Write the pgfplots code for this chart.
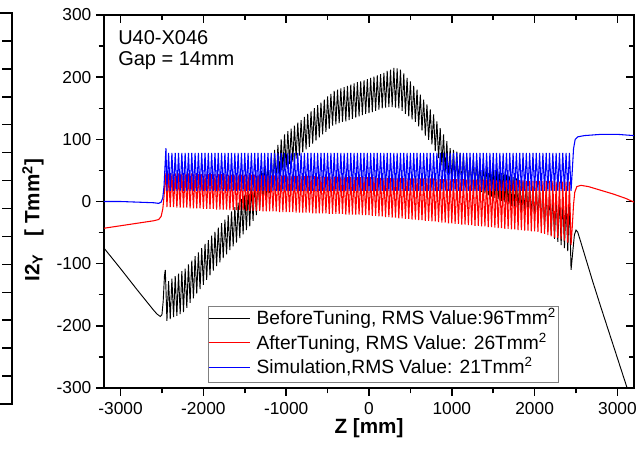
\documentclass[border=0pt]{standalone}
\usepackage{fontspec}
\setmainfont{Liberation Sans}
\usepackage{pgfplots}
\pgfplotsset{compat=1.18}
\definecolor{simblue}{RGB}{0,0,255}
\definecolor{tunered}{RGB}{255,0,0}

\begin{document}
\begin{tikzpicture}
\useasboundingbox (-78pt,-49.5pt) rectangle (399.75pt,291pt);

% edge of the neighbouring panel, cut by the picture border
\begin{scope}
\clip (-78pt,-49.5pt) rectangle (-68pt,291pt);
\begin{axis}[at={(-69pt,-12pt)}, anchor=south east, scale only axis,
  width=40pt, height=293.25pt, xmin=0, xmax=1, ymin=0, ymax=14,
  xtick=\empty, ytick={1,...,13}, yticklabels={}, ytick pos=right,
  tick align=inside, major tick length=7.5pt,
  axis line style={line width=1.1pt}, every tick/.append style={line width=1.1pt, black}]
\end{axis}
\end{scope}

% inward ticks on the top and right edges
\begin{axis}[
  at={(0,0)}, anchor=south west, scale only axis,
  width=397.5pt, height=279.75pt,
  xmin=-3200, xmax=3200, ymin=-300, ymax=300,
  xtick={-3000,-2000,...,3000}, ytick={-300,-200,...,300},
  minor x tick num=1, minor y tick num=1,
  xtick pos=right, ytick pos=right, tick align=inside,
  xticklabels={}, yticklabels={},
  major tick length=6pt, minor tick length=4pt,
  axis line style={draw=none},
  every tick/.append style={line width=1.1pt, black},
]
\end{axis}

\begin{axis}[
  at={(0,0)}, anchor=south west, scale only axis,
  width=397.5pt, height=279.75pt,
  xmin=-3200, xmax=3200, ymin=-300, ymax=300,
  xtick={-3000,-2000,...,3000}, ytick={-300,-200,...,300},
  minor x tick num=1, minor y tick num=1,
  xtick pos=left, ytick pos=left, tick align=outside,
  major tick length=6pt, minor tick length=4pt,
  axis line style={line width=1.1pt},
  every tick/.append style={line width=1.1pt, black},
  tick label style={font=\fontsize{13}{15}\selectfont},
  xticklabel style={yshift=-1.5pt},
  /pgf/number format/assume math mode=true,
  /pgf/number format/1000 sep={},
  scaled ticks=false,
  xlabel={Z [mm]},
  ylabel={I2\textsubscript{Y}\ \ \ [ Tmm\textsuperscript{2}]},
  label style={font=\fontsize{15.5}{18}\selectfont\bfseries},
  xlabel style={at={(axis description cs:0.5,-0.107)}, anchor=center},
  ylabel style={at={(axis description cs:-0.134,0.45)}, anchor=center},
]
\addplot[black, line width=0.7pt] coordinates {
(-3200,-75) (-3000,-108) (-2800,-142) (-2600,-175) (-2560,-181) (-2520,-185) (-2500,-182) (-2485,-160) (-2470,-120) (-2460,-110) (-2452,-140)
(-2440,-192) (-2420,-128) (-2400,-189) (-2380,-124) (-2360,-186) (-2340,-120) (-2320,-184) (-2300,-116) (-2280,-181) (-2260,-112)
(-2240,-178) (-2220,-108) (-2200,-171) (-2180,-101) (-2160,-163) (-2140,-95) (-2120,-156) (-2100,-88) (-2080,-148) (-2060,-82)
(-2040,-141) (-2020,-75) (-2000,-134) (-1980,-68) (-1960,-126) (-1940,-62) (-1920,-119) (-1900,-55) (-1880,-111) (-1860,-49)
(-1840,-104) (-1820,-42) (-1800,-98) (-1780,-35) (-1760,-91) (-1740,-29) (-1720,-85) (-1700,-22) (-1680,-78) (-1660,-16)
(-1640,-72) (-1620,-9) (-1600,-66) (-1580,-2) (-1560,-59) (-1540,4) (-1520,-53) (-1500,11) (-1480,-46) (-1460,17)
(-1440,-40) (-1420,24) (-1400,-31) (-1380,32) (-1360,-22) (-1340,41) (-1320,-13) (-1300,49) (-1280,-4) (-1260,58)
(-1240,5) (-1220,66) (-1200,14) (-1180,74) (-1160,23) (-1140,83) (-1120,32) (-1100,91) (-1080,41) (-1060,100)
(-1040,50) (-1020,108) (-1000,55) (-980,113) (-960,60) (-940,117) (-920,64) (-900,122) (-880,69) (-860,127)
(-840,74) (-820,131) (-800,79) (-780,136) (-760,84) (-740,141) (-720,88) (-700,145) (-680,93) (-660,150)
(-640,98) (-620,155) (-600,103) (-580,159) (-560,108) (-540,164) (-520,112) (-500,169) (-480,117) (-460,173)
(-440,122) (-420,178) (-400,124) (-380,180) (-360,126) (-340,182) (-320,128) (-300,184) (-280,129) (-260,186)
(-240,131) (-220,188) (-200,133) (-180,190) (-160,135) (-140,192) (-120,137) (-100,193) (-80,139) (-60,195)
(-40,141) (-20,197) (0,142) (20,199) (40,144) (60,201) (80,146) (100,203) (120,148) (140,205)
(160,150) (180,207) (200,151) (220,210) (240,152) (260,212) (280,152) (300,215) (320,151) (340,214)
(360,150) (380,212) (400,146) (420,206) (440,141) (460,199) (480,137) (500,193) (520,132) (540,186)
(560,128) (580,180) (600,121) (620,172) (640,114) (660,164) (680,106) (700,156) (720,99) (740,148)
(760,92) (780,140) (800,81) (820,129) (840,70) (860,118) (880,58) (900,108) (920,47) (940,97)
(960,36) (980,86) (1000,34) (1020,83) (1040,32) (1060,80) (1080,30) (1100,78) (1120,27) (1140,76)
(1160,25) (1180,73) (1200,23) (1220,71) (1240,21) (1260,68) (1280,19) (1300,66) (1320,17) (1340,63)
(1360,15) (1380,61) (1400,13) (1420,58) (1440,10) (1460,56) (1480,8) (1500,53) (1520,6) (1540,51)
(1560,4) (1580,48) (1600,1) (1620,46) (1640,-1) (1660,43) (1680,-4) (1700,41) (1720,-7) (1740,39)
(1760,-9) (1780,37) (1800,-12) (1820,34) (1840,-15) (1860,32) (1880,-17) (1900,30) (1920,-20) (1940,27)
(1960,-23) (1980,25) (2000,-25) (2020,23) (2040,-28) (2060,21) (2080,-34) (2100,18) (2120,-41) (2140,16)
(2160,-47) (2180,14) (2200,-54) (2220,12) (2240,-60) (2260,9) (2280,-65) (2300,7) (2320,-70) (2340,5)
(2360,-75) (2380,2) (2400,-80) (2420,0) (2440,-110)
(2460,-82) (2480,-54) (2500,-46) (2520,-49) (2550,-62) (2600,-84) (2700,-128) (2800,-170) (2900,-211) (3000,-252) (3100,-293) (3200,-335)
};
\addplot[tunered, line width=0.8pt] coordinates {
(-3200,-43) (-3000,-39) (-2800,-35) (-2600,-31) (-2540,-29) (-2510,-24) (-2490,-12) (-2475,8) (-2462,32) (-2452,46)
(-2440,-9) (-2420,45) (-2400,-9) (-2380,45) (-2360,-9) (-2340,45) (-2320,-10) (-2300,45) (-2280,-10) (-2260,45)
(-2240,-10) (-2220,45) (-2200,-10) (-2180,45) (-2160,-11) (-2140,45) (-2120,-11) (-2100,45) (-2080,-11) (-2060,44)
(-2040,-11) (-2020,44) (-2000,-12) (-1980,44) (-1960,-12) (-1940,44) (-1920,-12) (-1900,44) (-1880,-12) (-1860,44)
(-1840,-13) (-1820,44) (-1800,-13) (-1780,44) (-1760,-13) (-1740,44) (-1720,-13) (-1700,43) (-1680,-14) (-1660,43)
(-1640,-14) (-1620,43) (-1600,-14) (-1580,43) (-1560,-14) (-1540,43) (-1520,-14) (-1500,43) (-1480,-15) (-1460,43)
(-1440,-15) (-1420,43) (-1400,-15) (-1380,43) (-1360,-15) (-1340,42) (-1320,-15) (-1300,42) (-1280,-16) (-1260,42)
(-1240,-16) (-1220,42) (-1200,-16) (-1180,42) (-1160,-16) (-1140,42) (-1120,-16) (-1100,42) (-1080,-17) (-1060,42)
(-1040,-17) (-1020,42) (-1000,-17) (-980,41) (-960,-17) (-940,41) (-920,-17) (-900,41) (-880,-18) (-860,41)
(-840,-18) (-820,41) (-800,-18) (-780,41) (-760,-18) (-740,41) (-720,-18) (-700,41) (-680,-19) (-660,41)
(-640,-19) (-620,40) (-600,-19) (-580,40) (-560,-19) (-540,40) (-520,-19) (-500,40) (-480,-20) (-460,40)
(-440,-20) (-420,40) (-400,-20) (-380,40) (-360,-20) (-340,40) (-320,-20) (-300,40) (-280,-21) (-260,39)
(-240,-21) (-220,39) (-200,-21) (-180,39) (-160,-21) (-140,39) (-120,-21) (-100,39) (-80,-22) (-60,39)
(-40,-22) (-20,39) (0,-22) (20,39) (40,-23) (60,39) (80,-23) (100,38) (120,-24) (140,38)
(160,-24) (180,38) (200,-25) (220,38) (240,-25) (260,38) (280,-26) (300,38) (320,-26) (340,38)
(360,-27) (380,38) (400,-27) (420,38) (440,-28) (460,37) (480,-28) (500,37) (520,-29) (540,37)
(560,-29) (580,37) (600,-30) (620,37) (640,-30) (660,37) (680,-31) (700,37) (720,-31) (740,37)
(760,-32) (780,37) (800,-32) (820,36) (840,-33) (860,36) (880,-34) (900,36) (920,-34) (940,36)
(960,-35) (980,36) (1000,-35) (1020,36) (1040,-36) (1060,36) (1080,-36) (1100,36) (1120,-37) (1140,36)
(1160,-37) (1180,35) (1200,-38) (1220,35) (1240,-38) (1260,35) (1280,-39) (1300,35) (1320,-39) (1340,35)
(1360,-40) (1380,35) (1400,-40) (1420,35) (1440,-41) (1460,35) (1480,-41) (1500,35) (1520,-42) (1540,34)
(1560,-43) (1580,34) (1600,-43) (1620,34) (1640,-44) (1660,34) (1680,-44) (1700,34) (1720,-45) (1740,34)
(1760,-45) (1780,34) (1800,-46) (1820,34) (1840,-46) (1860,34) (1880,-47) (1900,33) (1920,-47) (1940,33)
(1960,-48) (1980,33) (2000,-48) (2020,33) (2040,-49) (2060,33) (2080,-51) (2100,33) (2120,-52) (2140,33)
(2160,-54) (2180,33) (2200,-56) (2220,33) (2240,-58) (2260,32) (2280,-59) (2300,32) (2320,-61) (2340,32)
(2360,-63) (2380,32) (2400,-66) (2420,32) (2440,-70)
(2455,-40) (2470,-5) (2485,15) (2510,24) (2560,26) (2650,24) (2800,18) (2950,12) (3100,5) (3200,-1)
};
\addplot[simblue, line width=0.8pt] coordinates {
(-3200,0) (-3000,0) (-2800,-1) (-2600,-2) (-2540,-3) (-2510,-1) (-2490,6) (-2475,25) (-2462,60) (-2452,86)
(-2440,17) (-2420,78) (-2400,17) (-2380,78) (-2360,17) (-2340,78) (-2320,17) (-2300,78) (-2280,17) (-2260,78)
(-2240,17) (-2220,78) (-2200,17) (-2180,78) (-2160,17) (-2140,78) (-2120,17) (-2100,78) (-2080,17) (-2060,78)
(-2040,17) (-2020,78) (-2000,17) (-1980,78) (-1960,17) (-1940,78) (-1920,17) (-1900,78) (-1880,17) (-1860,78)
(-1840,17) (-1820,78) (-1800,17) (-1780,78) (-1760,17) (-1740,78) (-1720,17) (-1700,78) (-1680,17) (-1660,78)
(-1640,17) (-1620,78) (-1600,17) (-1580,78) (-1560,17) (-1540,78) (-1520,17) (-1500,78) (-1480,17) (-1460,78)
(-1440,17) (-1420,78) (-1400,17) (-1380,78) (-1360,17) (-1340,78) (-1320,17) (-1300,78) (-1280,17) (-1260,78)
(-1240,17) (-1220,78) (-1200,17) (-1180,78) (-1160,17) (-1140,78) (-1120,17) (-1100,78) (-1080,17) (-1060,78)
(-1040,17) (-1020,78) (-1000,17) (-980,78) (-960,17) (-940,78) (-920,17) (-900,78) (-880,17) (-860,78)
(-840,17) (-820,78) (-800,17) (-780,78) (-760,17) (-740,78) (-720,17) (-700,78) (-680,17) (-660,78)
(-640,17) (-620,78) (-600,17) (-580,78) (-560,17) (-540,78) (-520,17) (-500,78) (-480,17) (-460,78)
(-440,17) (-420,78) (-400,17) (-380,78) (-360,17) (-340,78) (-320,17) (-300,78) (-280,17) (-260,78)
(-240,17) (-220,78) (-200,17) (-180,78) (-160,17) (-140,78) (-120,17) (-100,78) (-80,17) (-60,78)
(-40,17) (-20,78) (0,17) (20,78) (40,17) (60,78) (80,17) (100,78) (120,17) (140,78)
(160,17) (180,78) (200,17) (220,78) (240,17) (260,78) (280,17) (300,78) (320,17) (340,78)
(360,17) (380,78) (400,17) (420,78) (440,17) (460,78) (480,17) (500,78) (520,17) (540,78)
(560,17) (580,78) (600,17) (620,78) (640,17) (660,78) (680,17) (700,78) (720,17) (740,78)
(760,17) (780,78) (800,17) (820,78) (840,17) (860,78) (880,17) (900,78) (920,17) (940,78)
(960,17) (980,78) (1000,17) (1020,78) (1040,17) (1060,78) (1080,17) (1100,78) (1120,17) (1140,78)
(1160,17) (1180,78) (1200,17) (1220,78) (1240,17) (1260,78) (1280,17) (1300,78) (1320,17) (1340,78)
(1360,17) (1380,78) (1400,17) (1420,78) (1440,17) (1460,78) (1480,17) (1500,78) (1520,17) (1540,78)
(1560,17) (1580,78) (1600,17) (1620,78) (1640,17) (1660,78) (1680,17) (1700,78) (1720,17) (1740,78)
(1760,17) (1780,78) (1800,17) (1820,78) (1840,17) (1860,78) (1880,17) (1900,78) (1920,17) (1940,78)
(1960,17) (1980,78) (2000,17) (2020,78) (2040,17) (2060,78) (2080,17) (2100,78) (2120,17) (2140,78)
(2160,17) (2180,78) (2200,17) (2220,78) (2240,17) (2260,78) (2280,17) (2300,78) (2320,17) (2340,78)
(2360,17) (2380,78) (2400,17) (2420,78) (2440,17)
(2455,50) (2470,85) (2490,100) (2520,104) (2600,106) (2800,108) (3000,108) (3200,106)
};
% legend box: short coloured rules beside the entry texts
\node[anchor=south east, draw=gray, line width=0.6pt, fill=white,
  inner xsep=0pt, inner ysep=1pt, font=\fontsize{14.4}{16}\selectfont]
  at (axis description cs:0.8585,0.0134)
  {\renewcommand\arraystretch{1.15}%
   \begin{tabular}{@{}l@{\hspace{5pt}}l@{\hspace{2pt}}}
   \textcolor{black}{\rule[4.6pt]{31pt}{0.9pt}} & BeforeTuning, RMS Value:96Tmm\textsuperscript{2}\\
   \textcolor{tunered}{\rule[4.6pt]{31pt}{0.9pt}} & AfterTuning, RMS Value: 26Tmm\textsuperscript{2}\\
   \textcolor{simblue}{\rule[4.6pt]{31pt}{0.9pt}} & Simulation,RMS Value: 21Tmm\textsuperscript{2}
   \end{tabular}};
\node[anchor=north west, align=left, inner sep=0pt,
  font=\fontsize{15}{15.75}\selectfont] at (axis description cs:0.0264,0.96)
  {U40-X046\\Gap = 14mm};
\end{axis}
\end{tikzpicture}
\end{document}
